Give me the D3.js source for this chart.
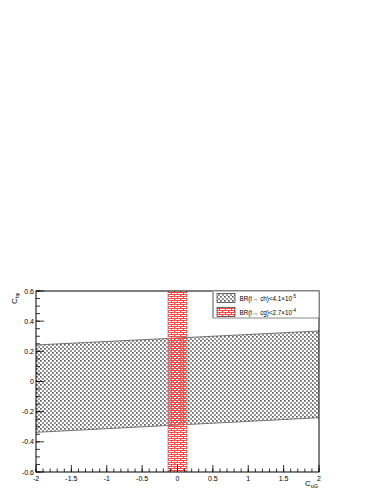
<!DOCTYPE html>
<html>
<head>
<meta charset="utf-8">
<script src="https://cdn.jsdelivr.net/npm/d3@7"></script>
<style>
  body { margin: 0; background: #fff; }
  text { font-family: "Liberation Sans", Arial, sans-serif; }
</style>
</head>
<body>
<div id="chart"></div>
<script>
// band edges (at x = -2 and x = 2)
var bandX = [-2, 2];
var bandLow = [-0.337, -0.24];
var bandHigh = [0.242, 0.335];
// vertical red band
var redX = [-0.135, 0.135];
var xTicks = [-2, -1.5, -1, -0.5, 0, 0.5, 1, 1.5, 2];
var yTicks = [-0.6, -0.4, -0.2, 0, 0.2, 0.4, 0.6];
var legendLabels = [
    {text: "BR(t\u2192 ch)<4.1\u00d710", sup: "-5", fill: "url(#grey)"},
    {text: "BR(t\u2192 cg)<2.7\u00d710", sup: "-4", fill: "url(#red)"}
];

var W = 383, H = 495;
var fLeft = 36, fRight = 319, fTop = 291, fBottom = 472;

var svg = d3.select('#chart').append('svg')
    .attr('width', W).attr('height', H);

var x = d3.scaleLinear().domain([-2, 2]).range([fLeft, fRight]);
var y = d3.scaleLinear().domain([-0.6, 0.6]).range([fBottom, fTop]);

// patterns (transparent gaps so the two bands mix where they overlap)
var defs = svg.append('defs');
let pg = defs.append('pattern').attr('id', 'grey')
    .attr('patternUnits', 'userSpaceOnUse').attr('width', 4).attr('height', 4);
pg.append('rect').attr('x', 0).attr('y', 0).attr('width', 2).attr('height', 2).attr('fill', '#999');
pg.append('rect').attr('x', 2).attr('y', 2).attr('width', 2).attr('height', 2).attr('fill', '#999');
pg.append('rect').attr('x', 0).attr('y', 0).attr('width', 1).attr('height', 1).attr('fill', '#555');

let pr = defs.append('pattern').attr('id', 'red')
    .attr('patternUnits', 'userSpaceOnUse').attr('width', 6).attr('height', 4);
pr.append('rect').attr('width', 6).attr('height', 1).attr('fill', '#f44');
pr.append('rect').attr('x', 3).attr('y', 1).attr('width', 1).attr('height', 1).attr('fill', '#f44');
pr.append('rect').attr('y', 2).attr('width', 6).attr('height', 1).attr('fill', '#f44');
pr.append('rect').attr('x', 0).attr('y', 3).attr('width', 1).attr('height', 1).attr('fill', '#f44');

// grey band
let bandPts = [];
for (var i = 0; i < bandX.length; i++) bandPts.push([x(bandX[i]), y(bandHigh[i])]);
for (var i = bandX.length - 1; i >= 0; i--) bandPts.push([x(bandX[i]), y(bandLow[i])]);
svg.append('polygon')
    .attr('points', bandPts.map(p => p.join(',')).join(' '))
    .attr('fill', 'url(#grey)');
let line = d3.line().x(d => x(d[0])).y(d => y(d[1]));
svg.append('path').attr('d', line(bandX.map((v, i) => [v, bandHigh[i]])))
    .attr('fill', 'none').attr('stroke', '#555').attr('stroke-width', 0.8);
svg.append('path').attr('d', line(bandX.map((v, i) => [v, bandLow[i]])))
    .attr('fill', 'none').attr('stroke', '#555').attr('stroke-width', 0.8);

// red band on top
svg.append('rect')
    .attr('x', x(redX[0])).attr('y', y(0.6))
    .attr('width', x(redX[1]) - x(redX[0])).attr('height', y(-0.6) - y(0.6))
    .attr('fill', 'url(#red)');
redX.forEach(function(v){
    svg.append('line').attr('x1', x(v)).attr('x2', x(v))
        .attr('y1', y(0.6)).attr('y2', y(-0.6))
        .attr('stroke', '#aaa').attr('stroke-width', 0.8);
});

// frame
svg.append('rect').attr('x', fLeft).attr('y', fTop)
    .attr('width', fRight - fLeft).attr('height', fBottom - fTop)
    .attr('fill', 'none').attr('stroke', '#000').attr('stroke-width', 1);

// x axis: ticks pointing into the frame
let xMinor = d3.range(-20, 21).map(d => d / 10);
svg.selectAll('.xminor').data(xMinor).enter().append('line')
    .attr('x1', d => x(d)).attr('x2', d => x(d))
    .attr('y1', fBottom).attr('y2', fBottom - 3.5)
    .attr('stroke', '#000').attr('stroke-width', 0.8);
svg.selectAll('.xmajor').data(xTicks).enter().append('line')
    .attr('x1', d => x(d)).attr('x2', d => x(d))
    .attr('y1', fBottom).attr('y2', fBottom - 7)
    .attr('stroke', '#000').attr('stroke-width', 0.8);
svg.selectAll('.xlab').data(xTicks).enter().append('text')
    .attr('x', d => x(d)).attr('y', fBottom + 9)
    .attr('text-anchor', 'middle').attr('font-size', 7)
    .text(d => d);

// y axis
let yMinor = d3.range(-12, 13).map(d => d / 20);
svg.selectAll('.yminor').data(yMinor).enter().append('line')
    .attr('x1', fLeft).attr('x2', fLeft + 4)
    .attr('y1', d => y(d)).attr('y2', d => y(d))
    .attr('stroke', '#000').attr('stroke-width', 0.8);
svg.selectAll('.ymajor').data(yTicks).enter().append('line')
    .attr('x1', fLeft).attr('x2', fLeft + 8)
    .attr('y1', d => y(d)).attr('y2', d => y(d))
    .attr('stroke', '#000').attr('stroke-width', 0.8);
svg.selectAll('.ylab').data(yTicks).enter().append('text')
    .attr('x', fLeft - 2).attr('y', d => y(d) + 2.5)
    .attr('text-anchor', 'end').attr('font-size', 7)
    .text(d => d);

// axis titles
let xt = svg.append('text').attr('x', fRight - 1).attr('y', 486)
    .attr('text-anchor', 'end').attr('font-size', 8);
xt.append('tspan').text('C');
xt.append('tspan').attr('font-size', 5.5).attr('dy', 2).text('uG');

let yt = svg.append('text')
    .attr('transform', 'translate(17,' + (fTop + 2) + ') rotate(-90)')
    .attr('text-anchor', 'end').attr('font-size', 8);
yt.append('tspan').text('C');
yt.append('tspan').attr('font-size', 5.5).attr('dy', 2).text('t\u03c6');

// legend
let lg = svg.append('g');
lg.append('rect').attr('x', 213).attr('y', fTop).attr('width', fRight - 213).attr('height', 27)
    .attr('fill', '#fff').attr('stroke', '#888').attr('stroke-width', 1);
lg.append('line').attr('x1', 213).attr('x2', 213).attr('y1', fTop).attr('y2', fTop + 27)
    .attr('stroke', '#aaa').attr('stroke-width', 2);
legendLabels.forEach(function(d, i){
    let yy = fTop + 2.5 + i * 14;
    lg.append('rect').attr('x', 217).attr('y', yy).attr('width', 18).attr('height', 9)
        .attr('fill', d.fill).attr('stroke', '#333').attr('stroke-width', 0.7);
    let t = lg.append('text').attr('x', 239.5).attr('y', yy + 7).attr('font-size', 6.3);
    t.append('tspan').text(d.text);
    t.append('tspan').attr('font-size', 4.5).attr('dy', -3).text(d.sup);
});
</script>
</body>
</html>
